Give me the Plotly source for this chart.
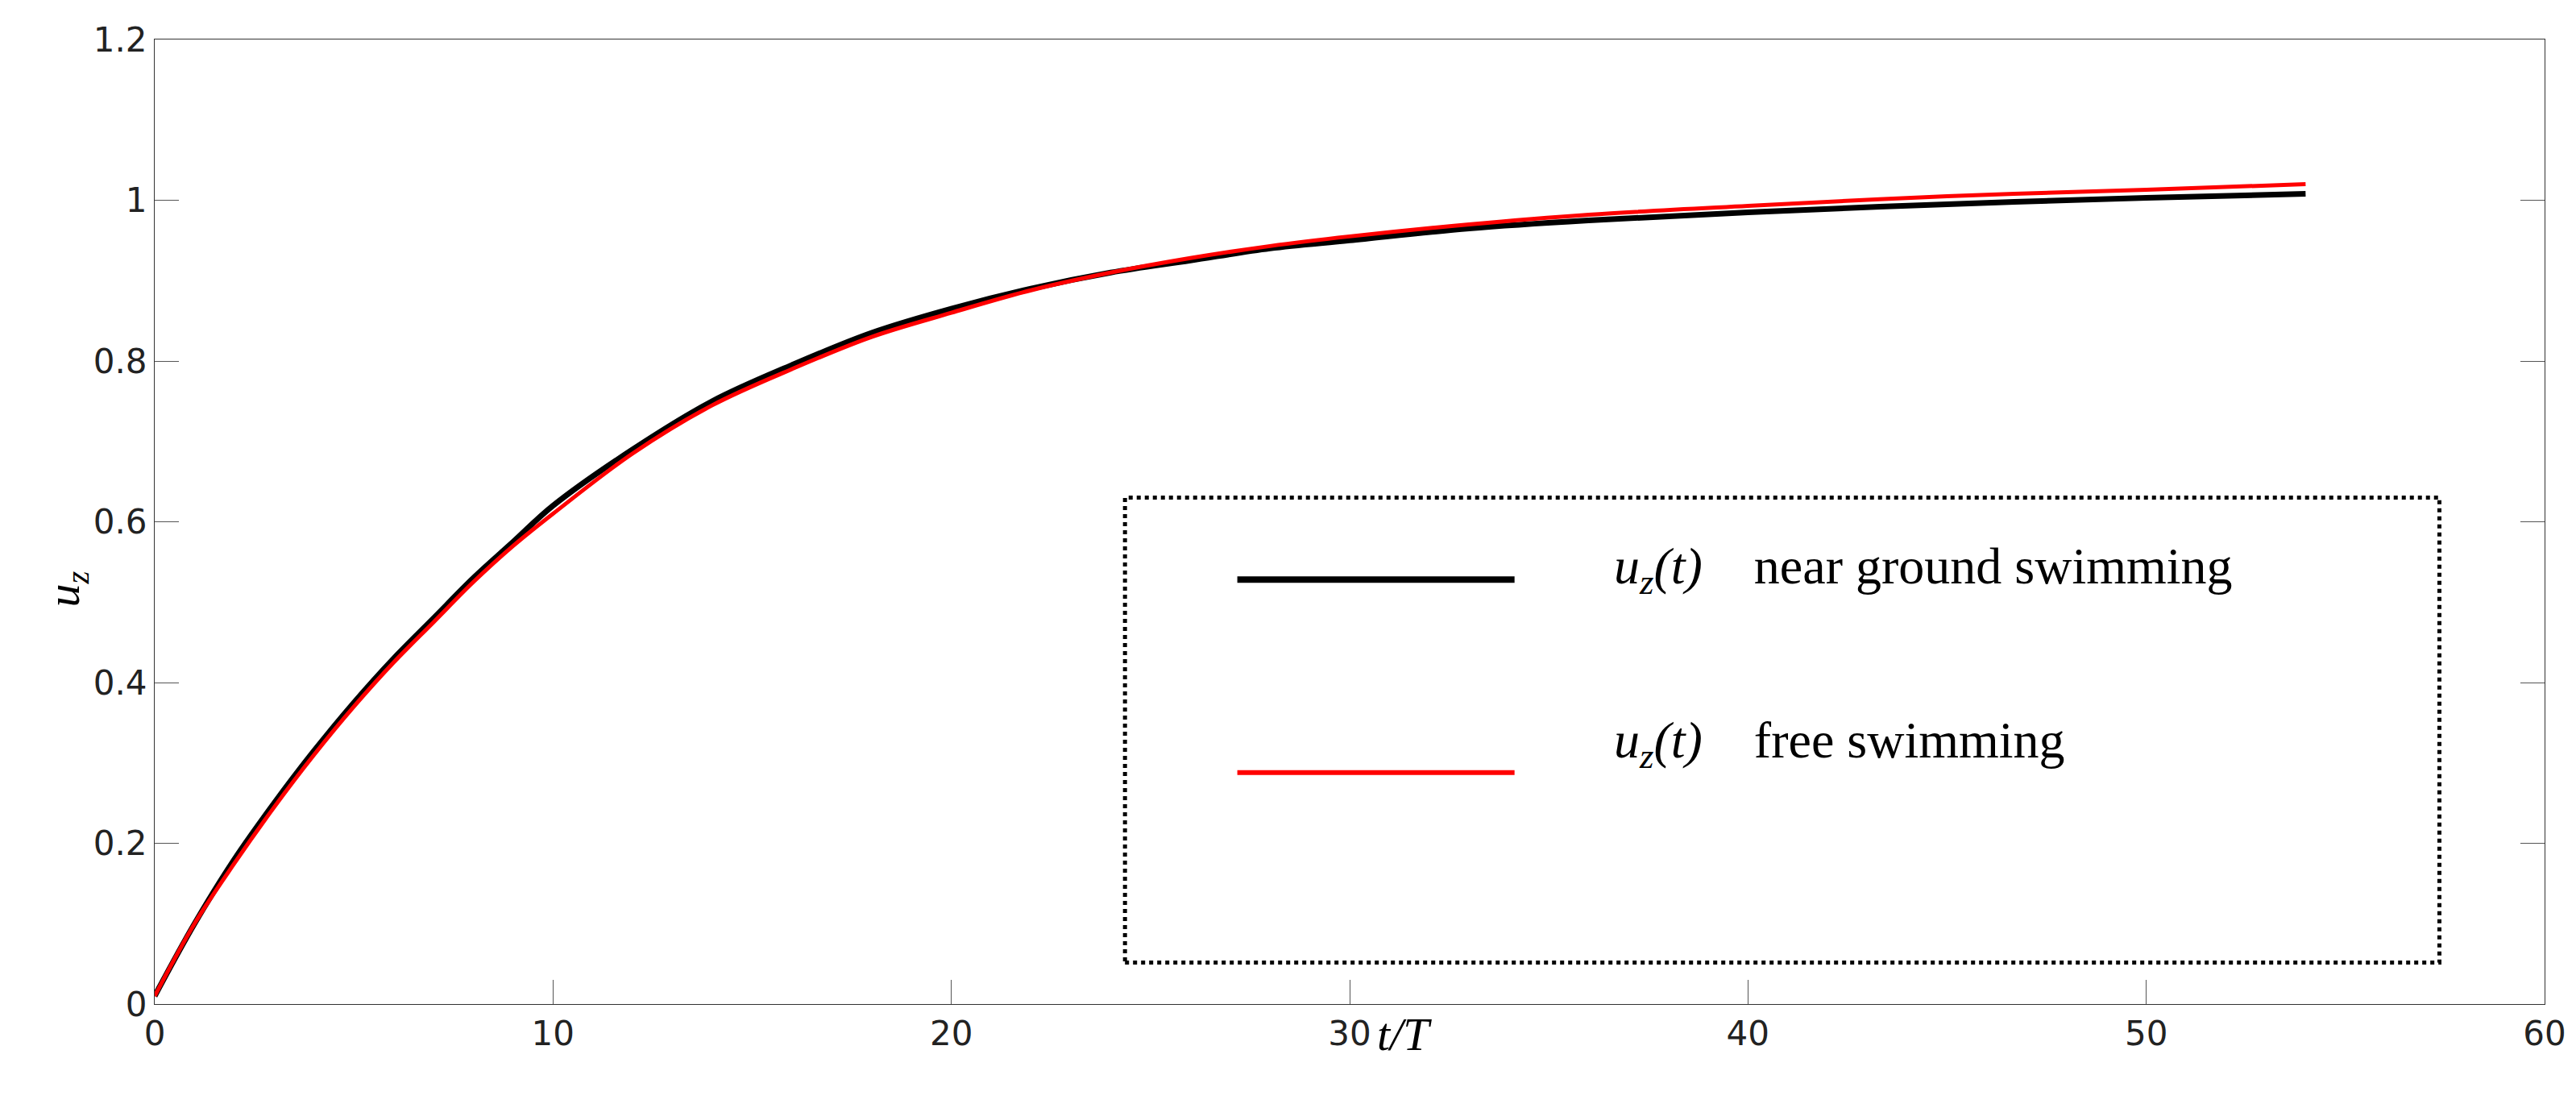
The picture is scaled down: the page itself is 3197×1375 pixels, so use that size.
import plotly.graph_objects as go

t = [0, 1, 2, 3, 4, 5, 6, 7, 8, 9, 10, 12, 14, 16, 18, 20, 22, 24, 26, 28, 30, 33, 36, 40, 45, 50, 54]
u_ground = [0.01, 0.10, 0.18, 0.25, 0.315, 0.375, 0.43, 0.48, 0.53, 0.575, 0.62, 0.69, 0.75, 0.795, 0.835,
            0.865, 0.89, 0.91, 0.925, 0.94, 0.95, 0.965, 0.975, 0.985, 0.995, 1.003, 1.008]
u_free = [0.01, 0.10, 0.175, 0.245, 0.31, 0.37, 0.425, 0.475, 0.525, 0.57, 0.61, 0.685, 0.745, 0.79, 0.83,
          0.86, 0.888, 0.91, 0.928, 0.943, 0.955, 0.97, 0.982, 0.993, 1.005, 1.013, 1.02]

serif = "Liberation Serif"
fig = go.Figure()
fig.add_trace(go.Scatter(x=t, y=u_ground, mode="lines", line=dict(color="black", width=7, shape="spline")))
fig.add_trace(go.Scatter(x=t, y=u_free, mode="lines", line=dict(color="#ff0000", width=5, shape="spline")))

axis = dict(showgrid=False, zeroline=False, showline=True, linecolor="#333",
            ticks="inside", ticklen=30, tickcolor="#555",
            tickfont=dict(family="DejaVu Sans", size=42, color="#222"))
fig.update_xaxes(range=[0, 60], dtick=10, mirror=True, **axis)
fig.update_yaxes(range=[0, 1.2], dtick=0.2, tickformat="~g", mirror="ticks", **axis)

# legend box drawn by hand
fig.add_shape(type="rect", xref="paper", yref="paper", x0=0.406, x1=0.956, y0=0.043, y1=0.525,
              line=dict(color="black", width=5, dash="dot"))
fig.add_shape(type="line", xref="paper", yref="paper", x0=0.453, x1=0.569, y0=0.44, y1=0.44,
              line=dict(color="black", width=8))
fig.add_shape(type="line", xref="paper", yref="paper", x0=0.453, x1=0.569, y0=0.24, y1=0.24,
              line=dict(color="#ff0000", width=6))
fig.add_annotation(xref="paper", yref="paper", x=0.61, y=0.45, xanchor="left", showarrow=False,
                   text="<i>u<sub>z</sub>(t)</i>    near ground swimming", font=dict(family=serif, size=64, color="black"))
fig.add_annotation(xref="paper", yref="paper", x=0.61, y=0.235, xanchor="left", showarrow=False,
                   text="<i>u<sub>z</sub>(t)</i>    free swimming", font=dict(family=serif, size=64, color="black"))
fig.add_annotation(xref="paper", yref="paper", x=0.523, y=-0.06, showarrow=False,
                   text="<i>t/T</i>", font=dict(family=serif, size=58, color="black"))
fig.add_annotation(xref="paper", yref="paper", x=-0.05, y=0.43, showarrow=False, textangle=-90,
                   text="<i>u<sub>z</sub></i>", font=dict(family=serif, size=58, color="black"))

fig.update_layout(width=3197, height=1375, showlegend=False, plot_bgcolor="white", paper_bgcolor="white",
                  margin=dict(l=184, r=47, t=41, b=137))
fig.write_html("out.html")
